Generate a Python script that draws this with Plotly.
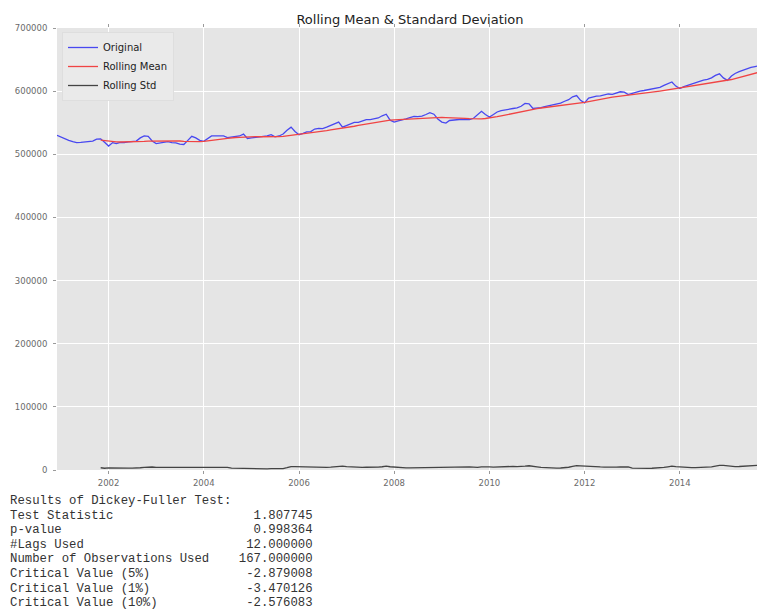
import pandas as pd
import plotly.graph_objects as go

# Monthly values (thousands), starting Dec 2000
start_month = "2000-12-01"
original_k = [
    530, 527, 525, 522, 520, 518.5, 519, 519.5, 520.5, 521, 524, 524.5,      # 2000-12 .. 2001-11
    519, 513, 518.5, 517, 519, 518.5, 519.5, 520, 521, 526, 529, 528.5,      # 2001-12 .. 2002-11
    521, 517, 518, 519.5, 520, 518.5, 518, 516, 515.5, 522, 528.5, 526,      # 2002-12 .. 2003-11
    522, 520.5, 525, 529, 529, 528.5, 529, 526.5, 527, 528, 529, 532,        # 2003-12 .. 2004-11
    525, 526, 526.5, 527, 527.5, 529, 531, 527.5, 529, 532, 538, 543,        # 2004-12 .. 2005-11
    536, 531, 533, 535.5, 536, 540, 541, 540.5, 543, 546, 548.5, 551,        # 2005-12 .. 2006-11
    543, 545.5, 548, 550.5, 550.5, 553, 555, 555, 556, 557.5, 561, 563.5,    # 2006-12 .. 2007-11
    554, 551, 553, 554, 556, 558, 560, 559.5, 560.5, 563, 566, 563.5,        # 2007-12 .. 2008-11
    556, 551, 549.5, 553.5, 554.5, 555, 555.5, 555, 555, 557, 563, 568,      # 2008-12 .. 2009-11
    563, 559, 563, 567, 569, 570.5, 571, 572.5, 573.5, 576, 580.5, 580,      # 2009-12 .. 2010-11
    572.5, 573, 574, 575.5, 577, 578.5, 580, 581, 584, 586.5, 591, 593,      # 2010-12 .. 2011-11
    585.5, 581.5, 589, 591, 592, 592.5, 594.5, 595.5, 595, 597, 599, 598.5,  # 2011-12 .. 2012-11
    594.5, 596.5, 598.5, 600, 601, 602, 603, 604, 606, 609, 612, 614.5,      # 2012-12 .. 2013-11
    608, 604, 607, 609, 611.5, 613, 616, 617.5, 618.5, 621, 625, 627.5,      # 2013-12 .. 2014-11
    621, 617, 624, 628, 631, 633.5, 635.5, 637.5, 639, 640,                  # 2014-12 .. 2015-09
]
window = 12

series_names = ["Original", "Rolling Mean", "Rolling Std"]
series_colors = ["#4848f0", "#f04444", "#444444"]

y_ticks = [0, 100000, 200000, 300000, 400000, 500000, 600000, 700000]
x_ticks = ["2002-01-01", "2004-01-01", "2006-01-01", "2008-01-01",
           "2010-01-01", "2012-01-01", "2014-01-01"]
x_tick_labels = ["2002", "2004", "2006", "2008", "2010", "2012", "2014"]

title_text = "Rolling Mean &amp; Standard Deviation"

df_rows = [
    ("Test Statistic", "1.807745"),
    ("p-value", "0.998364"),
    ("#Lags Used", "12.000000"),
    ("Number of Observations Used", "167.000000"),
    ("Critical Value (5%)", "-2.879008"),
    ("Critical Value (1%)", "-3.470126"),
    ("Critical Value (10%)", "-2.576083"),
]
df_header = "Results of Dickey-Fuller Test:"

# ---------------------------------------------------------------
dates = pd.date_range(start_month, periods=len(original_k), freq="MS")
ts = pd.Series([v * 1000 for v in original_k], index=dates)
rolmean = ts.rolling(window).mean()
rolstd = ts.rolling(window).std()

W, H = 757, 613
ml, mr, mt, mb = 57, 0, 28, 143
pw, ph = W - ml - mr, H - mt - mb

fig = go.Figure()
for name, data, col in zip(series_names, [ts, rolmean, rolstd], series_colors):
    fig.add_trace(go.Scatter(x=data.index, y=data.values, mode="lines", name=name,
                             line=dict(color=col, width=1.3)))

tick_font = dict(family="DejaVu Sans", size=8.5, color="#6a6a6a")
fig.update_layout(
    width=W, height=H,
    margin=dict(l=ml, r=mr, t=mt, b=mb, pad=0),
    paper_bgcolor="white",
    plot_bgcolor="#e5e5e5",
    showlegend=True,
    legend=dict(x=(62 - ml) / pw, y=1 - (32 - mt) / ph, xanchor="left", yanchor="top",
                bgcolor="#eaeaea", bordercolor="#dedede", borderwidth=1,
                font=dict(family="DejaVu Sans", size=10, color="#222"),
                tracegroupgap=0, itemwidth=30),
    title=dict(text=title_text, x=410 / W, xref="container", xanchor="center",
               y=1 - 19 / H, yref="container", yanchor="middle",
               font=dict(family="DejaVu Sans", size=13, color="#222")),
    xaxis=dict(range=["2000-12-01", "2015-08-16"], tickvals=x_ticks, ticktext=x_tick_labels,
               showgrid=True, gridcolor="white", gridwidth=1, zeroline=False,
               showline=False, ticks="outside", ticklen=3, tickcolor="#9a9a9a",
               mirror="ticks", tickfont=tick_font, ticklabelstandoff=2),
    yaxis=dict(range=[0, 700000], tickvals=y_ticks, tickformat="d",
               showgrid=True, gridcolor="white", gridwidth=1, zeroline=False,
               showline=False, ticks="outside", ticklen=3, tickcolor="#9a9a9a",
               tickfont=tick_font, ticklabelstandoff=4),
)

# Dickey-Fuller text block (monospace, pandas-style padding)
label_w = max(len(r[0]) for r in df_rows)
val_w = max(len(r[1]) for r in df_rows)
lines = [df_header] + [f"{k:<{label_w}}    {v:>{val_w}}" for k, v in df_rows]
y0, dy = 501, 14.6
for i, line in enumerate(lines):
    ypx = y0 + i * dy
    fig.add_annotation(text=line.replace(" ", "&nbsp;"), xref="paper", yref="paper",
                       x=(8 - ml) / pw, y=(H - mb - ypx) / ph,
                       xanchor="left", yanchor="middle", showarrow=False,
                       font=dict(family="Liberation Mono", size=12.3, color="#333"))

fig.write_html("out.html")
